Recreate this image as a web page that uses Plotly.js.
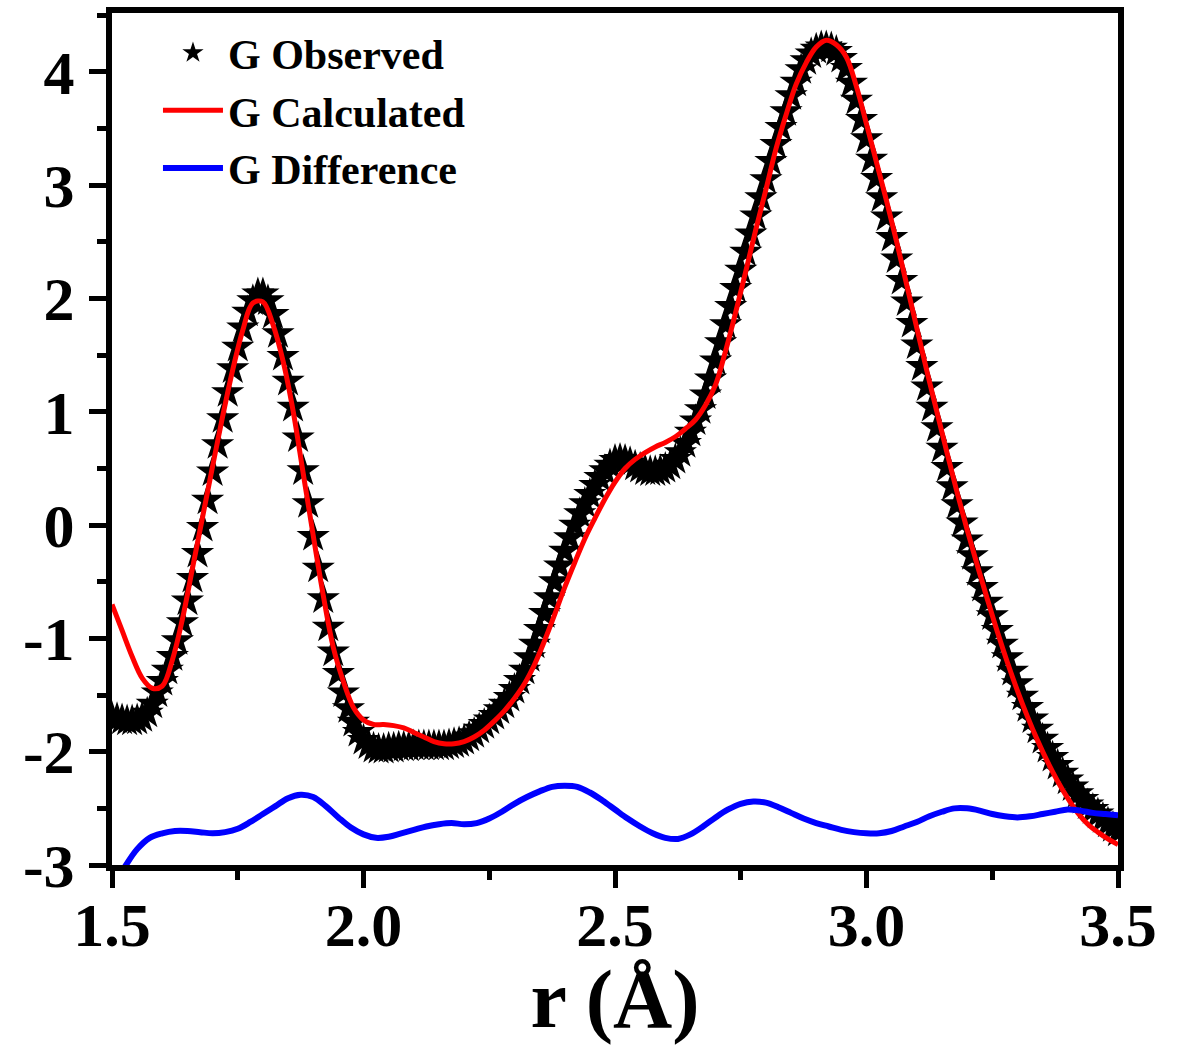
<!DOCTYPE html>
<html>
<head>
<meta charset="utf-8">
<script src="https://cdn.plot.ly/plotly-3.0.1.min.js"></script>
<style>html,body{margin:0;padding:0;background:#fff;}#chart{width:1177px;height:1045px;}</style>
</head>
<body>
<div id="chart"></div>
<script>
// ---- data ----
var obsX = [1.50,1.51,1.52,1.53,1.54,1.55,1.56,1.57,1.58,1.59,1.60,1.61,1.62,1.63,1.64,1.65,1.66,1.67,1.68,1.69,
1.70,1.71,1.72,1.73,1.74,1.75,1.76,1.77,1.78,1.79,1.80,1.81,1.82,1.83,1.84,1.85,1.86,1.87,1.88,1.89,
1.90,1.91,1.92,1.93,1.94,1.95,1.96,1.97,1.98,1.99,2.00,2.01,2.02,2.03,2.04,2.05,2.06,2.07,2.08,2.09,
2.10,2.11,2.12,2.13,2.14,2.15,2.16,2.17,2.18,2.19,2.20,2.21,2.22,2.23,2.24,2.25,2.26,2.27,2.28,2.29,
2.30,2.31,2.32,2.33,2.34,2.35,2.36,2.37,2.38,2.39,2.40,2.41,2.42,2.43,2.44,2.45,2.46,2.47,2.48,2.49,
2.50,2.51,2.52,2.53,2.54,2.55,2.56,2.57,2.58,2.59,2.60,2.61,2.62,2.63,2.64,2.65,2.66,2.67,2.68,2.69,
2.70,2.71,2.72,2.73,2.74,2.75,2.76,2.77,2.78,2.79,2.80,2.81,2.82,2.83,2.84,2.85,2.86,2.87,2.88,2.89,
2.90,2.91,2.92,2.93,2.94,2.95,2.96,2.97,2.98,2.99,3.00,3.01,3.02,3.03,3.04,3.05,3.06,3.07,3.08,3.09,
3.10,3.11,3.12,3.13,3.14,3.15,3.16,3.17,3.18,3.19,3.20,3.21,3.22,3.23,3.24,3.25,3.26,3.27,3.28,3.29,
3.30,3.31,3.32,3.33,3.34,3.35,3.36,3.37,3.38,3.39,3.40,3.41,3.42,3.43,3.44,3.45,3.46,3.47,3.48,3.49,3.50];
var obsG = [-1.70,-1.71,-1.72,-1.73,-1.73,-1.72,-1.70,-1.66,-1.58,-1.48,-1.38,-1.28,-1.16,-1.02,-0.86,-0.67,-0.47,-0.25,-0.02,0.22,
0.47,0.71,0.94,1.17,1.38,1.57,1.74,1.88,1.98,2.04,2.04,1.98,1.86,1.69,1.49,1.27,1.04,0.77,0.48,0.19,
-0.10,-0.38,-0.65,-0.90,-1.12,-1.31,-1.48,-1.62,-1.74,-1.83,-1.90,-1.94,-1.97,-1.98,-1.98,-1.97,-1.97,-1.96,-1.96,-1.96,
-1.95,-1.95,-1.95,-1.95,-1.95,-1.95,-1.95,-1.94,-1.93,-1.92,-1.90,-1.87,-1.84,-1.80,-1.76,-1.72,-1.68,-1.63,-1.58,-1.52,
-1.45,-1.37,-1.28,-1.17,-1.05,-0.92,-0.78,-0.64,-0.50,-0.36,-0.23,-0.11,0.00,0.10,0.19,0.27,0.35,0.42,0.48,0.53,
0.57,0.58,0.57,0.55,0.52,0.50,0.48,0.47,0.47,0.48,0.50,0.53,0.58,0.64,0.72,0.82,0.92,1.02,1.15,1.29,
1.45,1.61,1.77,1.93,2.09,2.25,2.41,2.57,2.73,2.89,3.05,3.21,3.36,3.51,3.65,3.79,3.91,4.02,4.10,4.16,
4.20,4.22,4.22,4.21,4.18,4.12,4.03,3.90,3.75,3.58,3.41,3.23,3.06,2.89,2.72,2.54,2.35,2.16,1.97,1.78,
1.59,1.40,1.22,1.04,0.86,0.68,0.51,0.34,0.18,0.02,-0.13,-0.27,-0.41,-0.55,-0.68,-0.80,-0.93,-1.05,-1.17,-1.29,
-1.40,-1.51,-1.61,-1.71,-1.80,-1.89,-1.97,-2.05,-2.12,-2.19,-2.25,-2.31,-2.37,-2.42,-2.47,-2.51,-2.55,-2.59,-2.63,-2.67,-2.71];

var calcX = [1.50,1.52,1.54,1.56,1.58,1.60,1.62,1.64,1.66,1.68,1.70,1.72,1.74,1.76,1.78,1.80,1.82,1.84,1.86,1.88,
1.90,1.92,1.94,1.96,1.98,2.00,2.02,2.04,2.06,2.08,2.10,2.12,2.14,2.16,2.18,2.20,2.22,2.24,2.26,2.28,
2.30,2.32,2.34,2.36,2.38,2.40,2.42,2.44,2.46,2.48,2.50,2.52,2.54,2.56,2.58,2.60,2.62,2.64,2.66,2.68,
2.70,2.72,2.74,2.76,2.78,2.80,2.82,2.84,2.86,2.88,2.90,2.92,2.94,2.96,2.98,3.00,3.02,3.04,3.06,3.08,
3.10,3.12,3.14,3.16,3.18,3.20,3.22,3.24,3.26,3.28,3.30,3.32,3.34,3.36,3.38,3.40,3.42,3.44,3.46,3.48,3.50];
var calcG = [-0.70,-0.93,-1.16,-1.35,-1.44,-1.42,-1.19,-0.83,-0.38,0.07,0.52,0.96,1.37,1.72,1.96,1.97,1.77,1.45,1.01,0.46,
-0.09,-0.62,-1.08,-1.38,-1.61,-1.72,-1.76,-1.76,-1.77,-1.79,-1.83,-1.87,-1.91,-1.93,-1.93,-1.91,-1.87,-1.81,-1.73,-1.64,
-1.53,-1.40,-1.23,-1.02,-0.79,-0.55,-0.33,-0.12,0.06,0.23,0.38,0.50,0.58,0.64,0.69,0.73,0.78,0.85,0.93,1.06,
1.24,1.54,1.88,2.24,2.61,2.96,3.32,3.62,3.89,4.08,4.22,4.28,4.24,4.13,3.87,3.54,3.20,2.86,2.50,2.12,
1.74,1.36,1.00,0.64,0.29,-0.04,-0.35,-0.65,-0.94,-1.21,-1.46,-1.69,-1.90,-2.09,-2.26,-2.41,-2.54,-2.64,-2.71,-2.77,-2.82];

var diffX = [1.525,1.550,1.575,1.600,1.625,1.650,1.675,1.700,1.725,1.750,1.775,1.800,1.825,1.850,1.875,1.900,1.925,1.950,1.975,2.000,
2.025,2.050,2.075,2.100,2.125,2.150,2.175,2.200,2.225,2.250,2.275,2.300,2.325,2.350,2.375,2.400,2.425,2.450,2.475,2.500,
2.525,2.550,2.575,2.600,2.625,2.650,2.675,2.700,2.725,2.750,2.775,2.800,2.825,2.850,2.875,2.900,2.925,2.950,2.975,3.000,
3.025,3.050,3.075,3.100,3.125,3.150,3.175,3.200,3.225,3.250,3.275,3.300,3.325,3.350,3.375,3.400,3.425,3.450,3.475,3.500];
var diffG = [-3.02,-2.86,-2.76,-2.72,-2.70,-2.70,-2.71,-2.72,-2.71,-2.68,-2.62,-2.55,-2.48,-2.41,-2.38,-2.40,-2.48,-2.58,-2.67,-2.73,
-2.76,-2.75,-2.72,-2.69,-2.66,-2.64,-2.63,-2.64,-2.63,-2.59,-2.53,-2.46,-2.40,-2.35,-2.31,-2.30,-2.31,-2.36,-2.43,-2.51,
-2.59,-2.66,-2.72,-2.76,-2.77,-2.73,-2.66,-2.58,-2.51,-2.46,-2.44,-2.45,-2.49,-2.54,-2.59,-2.63,-2.66,-2.69,-2.71,-2.72,
-2.72,-2.70,-2.66,-2.62,-2.57,-2.53,-2.50,-2.50,-2.52,-2.55,-2.57,-2.58,-2.57,-2.55,-2.53,-2.51,-2.52,-2.54,-2.55,-2.56];

var seriesNames = ['G Observed', 'G Calculated', 'G Difference'];
var xTickVals = [1.5, 2.0, 2.5, 3.0, 3.5];
var xTickText = ['1.5', '2.0', '2.5', '3.0', '3.5'];
var yTickVals = [-3, -2, -1, 0, 1, 2, 3, 4];
var yTickText = ['-3', '-2', '-1', '0', '1', '2', '3', '4'];
var xTitle = 'r (Å)';

// ---- drawing ----
var serif = 'Liberation Serif, Times New Roman, serif';
var traces = [
  {x: obsX, y: obsG, name: seriesNames[0], type: 'scatter', mode: 'markers',
   marker: {symbol: 'star', size: 25, color: '#000000', line: {width: 0}}},
  {x: calcX, y: calcG, name: seriesNames[1], type: 'scatter', mode: 'lines',
   line: {color: '#FF0000', width: 5, shape: 'spline', smoothing: 1}},
  {x: diffX, y: diffG, name: seriesNames[2], type: 'scatter', mode: 'lines',
   line: {color: '#0000FF', width: 6, shape: 'spline', smoothing: 1}}
];

var axisCommon = {
  showgrid: false, zeroline: false, showline: true, linecolor: '#000', linewidth: 6,
  mirror: true, ticks: 'outside', ticklen: 17, tickwidth: 5, tickcolor: '#000',
  tickfont: {family: serif, size: 62, color: '#000', weight: 'bold'}
};

var layout = {
  width: 1177, height: 1045,
  margin: {l: 112, r: 59, t: 13, b: 180},
  paper_bgcolor: '#fff', plot_bgcolor: '#fff',
  showlegend: true,
  legend: {x: 0.0457, xanchor: 'left', y: 0.993, yanchor: 'top', itemwidth: 60,
           bgcolor: 'rgba(0,0,0,0)', borderwidth: 0, tracegroupgap: 0,
           font: {family: serif, size: 42, color: '#000', weight: 'bold'}},
  xaxis: Object.assign({}, axisCommon, {
    range: [1.5, 3.5], tickmode: 'array', tickvals: xTickVals, ticktext: xTickText,
    ticklabelstandoff: -16,
    minor: {dtick: 0.25, tick0: 1.5, ticks: 'outside', ticklen: 9, tickwidth: 5, tickcolor: '#000'},
    title: {text: xTitle, font: {family: serif, size: 82, color: '#000', weight: 'bold'}, standoff: 22}
  }),
  yaxis: Object.assign({}, axisCommon, {
    range: [-3, 4.52], tickmode: 'array', tickvals: yTickVals, ticktext: yTickText,
    ticklabelstandoff: 2,
    minor: {dtick: 0.5, tick0: -3, ticks: 'outside', ticklen: 9, tickwidth: 5, tickcolor: '#000'}
  })
};

Plotly.newPlot('chart', traces, layout, {displayModeBar: false, staticPlot: true});
</script>
</body>
</html>
